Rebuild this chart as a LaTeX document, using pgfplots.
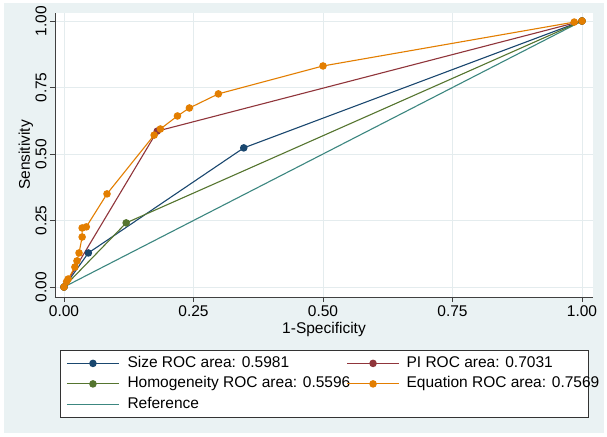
\documentclass[border=0pt]{standalone}
\usepackage{pgfplots}
\pgfplotsset{compat=1.18}
\usepackage{fontspec}
\setmainfont{Liberation Sans}
\definecolor{bgblue}{RGB}{234,242,243}
\definecolor{snavy}{RGB}{26,71,111}
\definecolor{smaroon}{RGB}{144,53,59}
\definecolor{sgreen}{RGB}{85,117,47}
\definecolor{sorange}{RGB}{227,126,0}
\definecolor{steal}{RGB}{60,135,128}
\definecolor{gridc}{RGB}{228,236,238}
\newcommand{\fs}{\fontsize{15.5}{18}\selectfont}
\begin{document}
\begin{tikzpicture}[x=1pt,y=1pt]
\fill[white] (0,0) rectangle (607,436);
\fill[bgblue] (4,3) rectangle (604,433);
\path[use as bounding box] (0,0) rectangle (607,436);
\begin{axis}[
  at={(55pt,139pt)}, anchor=south west,
  scale only axis, width=538pt, height=284pt,
  xmin=-0.0174, xmax=1.0212, ymin=-0.0376, ymax=1.0301,
  axis lines*=left, axis line style={-, line width=0.8pt, color=black!75},
  axis background/.style={fill=white},
  xtick={0,0.25,0.5,0.75,1}, ytick={0,0.25,0.5,0.75,1},
  tick align=outside, major tick length=5pt, tick style={black!75, line width=0.8pt},
  grid=major, major grid style={gridc, line width=0.9pt},
  ticklabel style={font=\fs},
  yticklabel style={rotate=90, anchor=south},
  /pgf/number format/fixed, /pgf/number format/fixed zerofill,
  /pgf/number format/precision=2, /pgf/number format/assume math mode=true,
  xlabel={1-Specificity}, ylabel={Sensitivity},
  label style={font=\fs},
  xlabel style={at={(axis description cs:0.5,-0.1127)}, anchor=center},
  ylabel style={at={(axis description cs:-0.0540,0.5)}, anchor=center},
  legend columns=2,
  legend style={at={(axis description cs:0.0093,-0.1866)}, anchor=north west,
    draw=black!80, line width=0.8pt, fill=white, font=\fs,
    inner xsep=6pt, inner ysep=6pt, column sep=0pt, row sep=6.5pt,
    nodes={inner xsep=0pt, inner ysep=0pt, text height=11pt, text depth=3pt},
    cells={anchor=west}},
  legend image code/.code={\draw[mark repeat=2,mark phase=2,#1] plot coordinates {(0pt,0pt) (26pt,0pt) (52pt,0pt)};},
]
\addplot[steal, line width=1.1pt, forget plot] coordinates {(0,0) (1,1)};
\addplot[snavy, line width=1.1pt, mark=*, mark size=3.2pt] coordinates {
  (0,0) (0.047,0.128) (0.347,0.523) (1,1)};
\addlegendentry{\hspace{8pt}\makebox[219pt][l]{Size ROC area: 0.5981}}
\addplot[smaroon, line width=1.1pt, mark=*, mark size=3.2pt] coordinates {
  (0,0) (0.180,0.586) (1,1)};
\addlegendentry{\hspace{7pt}\makebox[176pt][l]{PI ROC area: 0.7031}}
\addplot[sgreen, line width=1.1pt, mark=*, mark size=3.2pt] coordinates {
  (0,0) (0.120,0.241) (1,1)};
\addlegendentry{\hspace{8pt}\makebox[219pt][l]{Homogeneity ROC area: 0.5596}}
\addplot[sorange, line width=1.1pt, mark=*, mark size=3.2pt] coordinates {
  (0,0) (0.005,0.020) (0.008,0.030) (0.021,0.075) (0.025,0.098) (0.029,0.128)
  (0.035,0.188) (0.035,0.222) (0.043,0.226) (0.083,0.350) (0.174,0.571)
  (0.186,0.594) (0.219,0.643) (0.242,0.673) (0.298,0.726) (0.500,0.831)
  (0.985,0.996) (1,1)};
\addlegendentry{\hspace{7pt}\makebox[176pt][l]{Equation ROC area: 0.7569}}
\addlegendimage{steal, line width=1.1pt}
\addlegendentry{\hspace{8pt}\makebox[219pt][l]{Reference}}
\end{axis}
\end{tikzpicture}
\end{document}
